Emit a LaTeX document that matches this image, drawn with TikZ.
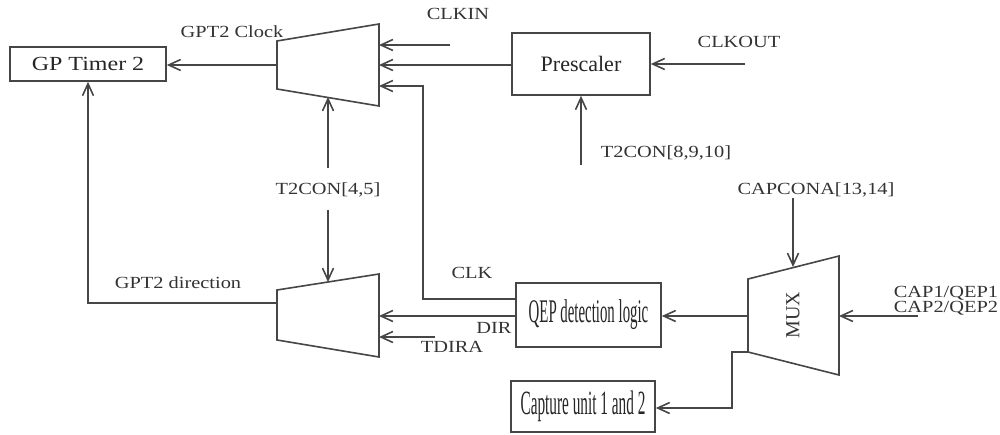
\documentclass[tikz,border=0pt]{standalone}
\usepackage{fontspec}
\setmainfont{Liberation Serif}
\newfontfamily\widefont[FakeStretch=1.2]{Liberation Serif}
\newfontfamily\narrowfont[FakeStretch=0.45]{Liberation Serif}
\usetikzlibrary{arrows.meta, calc}
\definecolor{wire}{RGB}{70,70,70}

\begin{document}
\begin{tikzpicture}[x=0.5pt, y=-0.5pt,
  blk/.style={draw=wire, line width=0.8pt, fill=white, inner sep=0pt, text=black!85},
  w/.style={line width=0.8pt, draw=wire},
  a/.style={w, -{Straight Barb[length=6pt, width=5.5pt]}},
  lb/.style={font=\widefont\fontsize{8.5}{10}\selectfont, text=black!80, inner sep=0pt}]
  \useasboundingbox (0,0) rectangle (1000,434);
  % ---- clock path: prescaler, clock mux and the timer
  \node[blk, minimum width=78pt, minimum height=17pt, font=\widefont\fontsize{10}{11}\selectfont] (timer) at (88,64) {GP Timer 2};
  \node[blk, minimum width=69pt, minimum height=31pt, font=\fontsize{11}{12}\selectfont] (pre) at (581,64) {Prescaler};
  \draw[w] (277,41) -- (379,24) -- (379,106) -- (277,89) -- cycle;
  \node (ckmux) at (328,65) {};
  \coordinate (ckout) at (277,65);
  \coordinate (ckin1) at (379,45);
  \coordinate (ckin2) at (379,65);
  \coordinate (ckin3) at (379,86);
  \coordinate (cksel) at (328,97);
  \coordinate (clkin) at (450,45);
  \coordinate (clkout) at (745,64);
  \coordinate (prsel) at (581,165);
  \draw[a] (ckout) -- (timer.east |- ckout);
  \draw[a] (clkin) -- (ckin1);
  \draw[a] (pre.west |- ckin2) -- (ckin2);
  \draw[a] (clkout) -- (pre.east |- clkout);
  \draw[a] (prsel) -- (pre.south);
  \node[lb] (lclock)  at (232,32)  {GPT2 Clock};
  \node[lb] (lclkin)  at (458,14)  {CLKIN};
  \node[lb] (lclkout) at (739,42)  {CLKOUT};
  \node[lb] (lpre)    at (666,153) {T2CON[8,9,10]};
  % ---- direction path
  \draw[w] (277,290) -- (379,274) -- (379,357) -- (277,340) -- cycle;
  \node (dirmux) at (328,315) {};
  \coordinate (dirout) at (277,303);
  \coordinate (dirin1) at (379,316);
  \coordinate (dirin2) at (379,337);
  \coordinate (dirsel) at (328,282);
  \coordinate (tdira) at (435,337);
  \node[lb] (t2con45) at (328,190) {T2CON[4,5]};
  \draw[a] ([yshift=7pt]t2con45.north) -- (cksel);
  \draw[a] ([yshift=-6pt]t2con45.south) -- (dirsel);
  \draw[a] (dirout) -| (timer.south);
  \node[lb] (ldir) at (178,283) {GPT2 direction};
  \draw[a] (tdira) -- (dirin2);
  \node[lb] (ltdira) at (452,347) {TDIRA};
  % ---- QEP logic, capture mux and capture units
  \node[blk, minimum width=72.5pt, minimum height=32pt, font=\narrowfont\fontsize{16.5}{18}\selectfont] (qep) at (588.5,315) {QEP detection logic};
  \node[blk, minimum width=72pt, minimum height=25.5pt, font=\narrowfont\fontsize{17}{18}\selectfont] (cap) at (583,406.5) {Capture unit 1 and 2};
  \draw[w] (748,279) -- (839,256) -- (839,375) -- (748,352) -- cycle;
  \node[rotate=90, font=\fontsize{10}{11}\selectfont, text=black!80] (mux) at (793,315) {MUX};
  \coordinate (muxout) at (748,316);
  \coordinate (muxcap) at (748,352);
  \coordinate (muxin) at (839,316);
  \coordinate (muxsel) at (793,267);
  \coordinate (capcona) at (793,198);
  \coordinate (capin) at (918,316);
  \draw[a] (qep.west |- 0,299) -- (423,299) |- (ckin3);
  \node[lb] (lclk) at (472,273) {CLK};
  \draw[a] (qep.west |- dirin1) -- (dirin1);
  \node[lb] (ldirin) at (494,328) {DIR};
  \draw[a] (muxout) -- (qep.east |- muxout);
  \draw[a] (muxcap) -- (732,352) |- (cap.east |- 0,408);
  \draw[a] (capcona) -- (muxsel);
  \node[lb] (lcapcona) at (816,190) {CAPCONA[13,14]};
  \draw[a] (capin) -- (muxin);
  \node[lb] (lcap1) at (946,293) {CAP1/QEP1};
  \node[lb] (lcap2) at (946,308) {CAP2/QEP2};
\end{tikzpicture}
\end{document}
